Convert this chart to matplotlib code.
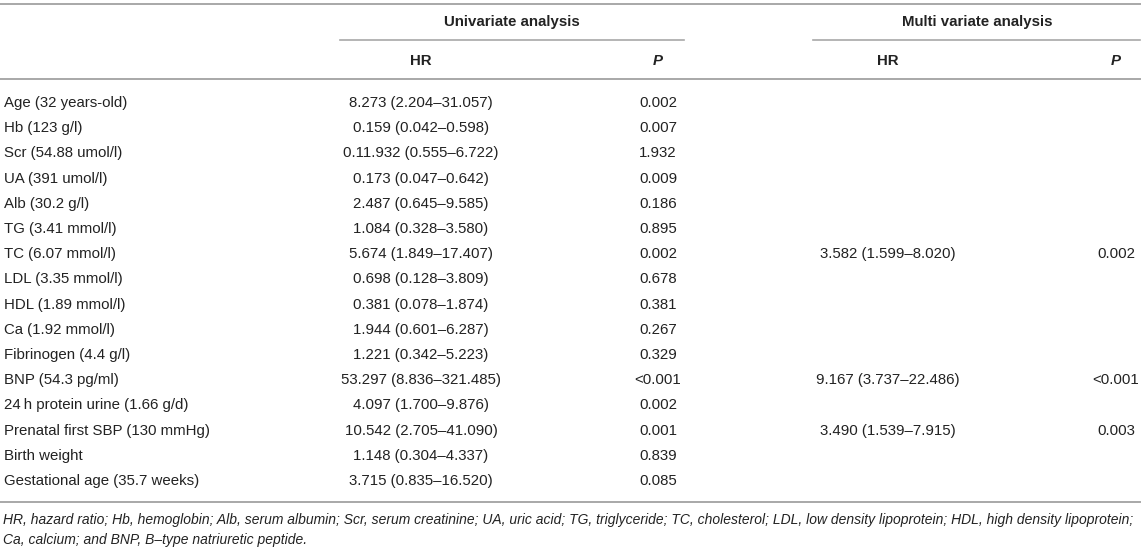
import matplotlib.pyplot as plt

variables = ['Age (32 years-old)', 'Hb (123 g/l)', 'Scr (54.88 umol/l)', 'UA (391 umol/l)',
             'Alb (30.2 g/l)', 'TG (3.41 mmol/l)', 'TC (6.07 mmol/l)', 'LDL (3.35 mmol/l)',
             'HDL (1.89 mmol/l)', 'Ca (1.92 mmol/l)', 'Fibrinogen (4.4 g/l)', 'BNP (54.3 pg/ml)',
             '24\u2009h protein urine (1.66 g/d)', 'Prenatal first SBP (130 mmHg)', 'Birth weight',
             'Gestational age (35.7 weeks)']
uni_hr = ['8.273 (2.204\u201331.057)', '0.159 (0.042\u20130.598)', '0.11.932 (0.555\u20136.722)',
          '0.173 (0.047\u20130.642)', '2.487 (0.645\u20139.585)', '1.084 (0.328\u20133.580)',
          '5.674 (1.849\u201317.407)', '0.698 (0.128\u20133.809)', '0.381 (0.078\u20131.874)',
          '1.944 (0.601\u20136.287)', '1.221 (0.342\u20135.223)', '53.297 (8.836\u2013321.485)',
          '4.097 (1.700\u20139.876)', '10.542 (2.705\u201341.090)', '1.148 (0.304\u20134.337)',
          '3.715 (0.835\u201316.520)']
uni_p = ['0.002', '0.007', '1.932', '0.009', '0.186', '0.895', '0.002', '0.678', '0.381',
         '0.267', '0.329', '<0.001', '0.002', '0.001', '0.839', '0.085']
multi_hr = ['', '', '', '', '', '', '3.582 (1.599\u20138.020)', '', '', '', '',
            '9.167 (3.737\u201322.486)', '', '3.490 (1.539\u20137.915)', '', '']
multi_p = ['', '', '', '', '', '', '0.002', '', '', '', '', '<0.001', '', '0.003', '', '']
footnote = ['HR, hazard ratio; Hb, hemoglobin; Alb, serum albumin; Scr, serum creatinine; UA, uric acid; '
            'TG, triglyceride; TC, cholesterol; LDL, low density lipoprotein; HDL, high density lipoprotein;',
            'Ca, calcium; and BNP, B\u2013type natriuretic peptide.']

plt.rcParams['font.family'] = ['Liberation Sans', 'DejaVu Sans']
fig = plt.figure(figsize=(11.45, 5.5), dpi=100)
ax = fig.add_axes([0, 0, 1, 1])
ax.set_xlim(0, 1145)
ax.set_ylim(550, 0)
ax.axis('off')

txt = '#222222'
rule = '#a8a8a8'
fs = 10.8

# rules
ax.plot([0, 1140], [4, 4], color=rule, lw=1.4)
ax.plot([340, 684], [40, 40], color=rule, lw=1.2)
ax.plot([813, 1140], [40, 40], color=rule, lw=1.2)
ax.plot([0, 1140], [79, 79], color=rule, lw=1.4)
ax.plot([0, 1140], [502, 502], color=rule, lw=1.4)

col_hr, col_p, col_mhr, col_mp = 421, 658, 888, 1116

ax.text(512, 22, 'Univariate analysis', ha='center', va='center', fontsize=fs, weight='bold', color=txt)
ax.text(977, 22, 'Multi variate analysis', ha='center', va='center', fontsize=fs, weight='bold', color=txt)
ax.text(col_hr, 61, 'HR', ha='center', va='center', fontsize=fs, weight='bold', color=txt)
ax.text(col_p, 61, 'P', ha='center', va='center', fontsize=fs, weight='bold', style='italic', color=txt)
ax.text(col_mhr, 61, 'HR', ha='center', va='center', fontsize=fs, weight='bold', color=txt)
ax.text(col_mp, 61, 'P', ha='center', va='center', fontsize=fs, weight='bold', style='italic', color=txt)

for i, name in enumerate(variables):
    y = 103 + i * 25.2
    ax.text(4, y, name, ha='left', va='center', fontsize=fs, color=txt)
    ax.text(col_hr, y, uni_hr[i], ha='center', va='center', fontsize=fs, color=txt)
    ax.text(col_p, y, uni_p[i], ha='center', va='center', fontsize=fs, color=txt)
    ax.text(col_mhr, y, multi_hr[i], ha='center', va='center', fontsize=fs, color=txt)
    ax.text(col_mp, y, multi_p[i], ha='center', va='center', fontsize=fs, color=txt)

for j, line in enumerate(footnote):
    ax.text(3, 520 + j * 20, line, ha='left', va='center', fontsize=10.0, style='italic', color=txt)

fig.savefig('out.png', dpi=100)
